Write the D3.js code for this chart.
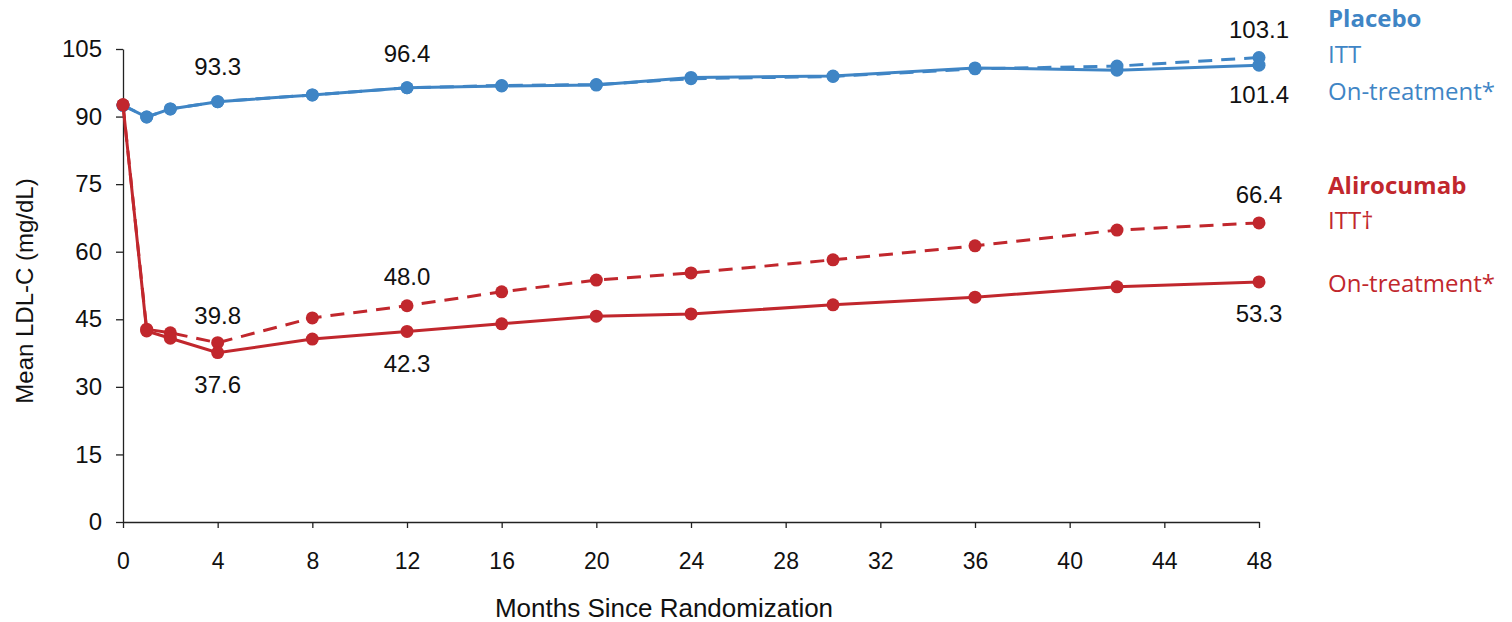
<!DOCTYPE html>
<html>
<head>
<meta charset="utf-8">
<script src="https://cdn.jsdelivr.net/npm/d3@7"></script>
<style>
  body { margin: 0; background: #fff; }
  svg { display: block; }
</style>
</head>
<body>
<div id="chart"></div>
<script>
// months where LDL-C was measured
var months = [0, 1, 2, 4, 8, 12, 16, 20, 24, 30, 36, 42, 48];

// mean LDL-C (mg/dL)
var placeboITT   = [92.5, 89.9, 91.7, 93.3, 94.8, 96.4, 96.9, 97.1, 98.4, 98.9, 100.6, 101.2, 103.1];
var placeboOnTx  = [92.5, 89.9, 91.7, 93.3, 94.8, 96.4, 96.8, 97.0, 98.7, 99.0, 100.8, 100.3, 101.4];
var aliroITT     = [92.6, 42.8, 42.0, 39.8, 45.3, 48.0, 51.1, 53.7, 55.3, 58.2, 61.3, 64.8, 66.4];
var aliroOnTx    = [92.6, 42.4, 40.8, 37.6, 40.6, 42.3, 44.0, 45.7, 46.2, 48.2, 49.9, 52.2, 53.3];

var xTicks = [0, 4, 8, 12, 16, 20, 24, 28, 32, 36, 40, 44, 48];
var yTicks = [0, 15, 30, 45, 60, 75, 90, 105];

var width = 1512, height = 622;
var blue = "#3f85c5", red = "#c1272d";

var svg = d3.select("#chart")
  .append("svg")
  .attr("width", width)
  .attr("height", height);

var x = d3.scaleLinear().domain([0, 48]).range([123, 1259]);
var y = d3.scaleLinear().domain([0, 105]).range([522, 49]);

var axisFont = "'Liberation Sans', Arial, sans-serif";

// y axis
var yAxis = svg.append("g")
  .attr("transform", "translate(123,0)")
  .call(d3.axisLeft(y).tickValues(yTicks).tickSize(7).tickPadding(14).tickSizeOuter(0));
yAxis.selectAll("text").attr("font-size", "24px").attr("font-family", axisFont).attr("fill", "#111");
yAxis.selectAll("line, path").attr("stroke", "#222").attr("stroke-width", 1.3);

// x axis
var xAxis = svg.append("g")
  .attr("transform", "translate(0,522)")
  .call(d3.axisBottom(x).tickValues(xTicks).tickSize(6).tickPadding(25).tickSizeOuter(0));
xAxis.selectAll("text").attr("font-size", "23px").attr("font-family", axisFont).attr("fill", "#111");
xAxis.selectAll("line, path").attr("stroke", "#222").attr("stroke-width", 1.3);

// axis titles
svg.append("text")
  .attr("x", 664).attr("y", 617)
  .attr("text-anchor", "middle")
  .attr("font-family", axisFont).attr("font-size", "26px").attr("fill", "#111")
  .text("Months Since Randomization");

svg.append("text")
  .attr("transform", "translate(33,291) rotate(-90)")
  .attr("text-anchor", "middle")
  .attr("font-family", axisFont).attr("font-size", "24px").attr("fill", "#111")
  .text("Mean LDL-C (mg/dL)");

var line = d3.line()
  .x(function(d) { return x(d[0]); })
  .y(function(d) { return y(d[1]); });

function drawSeries(vals, color, dashed) {
  var pts = months.map(function(m, i) { return [m, vals[i]]; });
  svg.append("path")
    .datum(pts)
    .attr("d", line)
    .attr("fill", "none")
    .attr("stroke", color)
    .attr("stroke-width", 3)
    .attr("stroke-dasharray", dashed ? "14,9" : null);
  svg.append("g")
    .selectAll("circle")
    .data(pts)
    .enter()
    .append("circle")
    .attr("cx", function(d) { return x(d[0]); })
    .attr("cy", function(d) { return y(d[1]); })
    .attr("r", 6.5)
    .attr("fill", color);
}

drawSeries(placeboITT, blue, true);
drawSeries(placeboOnTx, blue, false);
drawSeries(aliroITT, red, true);
drawSeries(aliroOnTx, red, false);

// value callouts
var labels = [
  { m: 4,  v: aliroITT[3],     dy: -19 },
  { m: 4,  v: aliroOnTx[3],    dy: 40 },
  { m: 12, v: aliroITT[5],     dy: -21 },
  { m: 12, v: aliroOnTx[5],    dy: 41 },
  { m: 4,  v: placeboITT[3],   dy: -27 },
  { m: 12, v: placeboITT[5],   dy: -26 },
  { m: 48, v: placeboITT[12],  dy: -20 },
  { m: 48, v: placeboOnTx[12], dy: 38 },
  { m: 48, v: aliroITT[12],    dy: -20 },
  { m: 48, v: aliroOnTx[12],   dy: 40 }
];
svg.append("g")
  .selectAll("text")
  .data(labels)
  .enter()
  .append("text")
  .attr("x", function(d) { return x(d.m); })
  .attr("y", function(d) { return y(d.v) + d.dy; })
  .attr("text-anchor", "middle")
  .attr("font-family", axisFont)
  .attr("font-size", "24px")
  .attr("fill", "#111")
  .text(function(d) { return d.v.toFixed(1); });

// legend on the right
var legendFont = "'Open Sans', Lato, sans-serif";
var legend = [
  { t: "Placebo",       y: 27,  c: blue, b: true },
  { t: "ITT",           y: 63,  c: blue, b: false },
  { t: "On-treatment*", y: 100, c: blue, b: false },
  { t: "Alirocumab",    y: 194, c: red,  b: true },
  { t: "ITT\u2020",     y: 229, c: red,  b: false },
  { t: "On-treatment*", y: 292, c: red,  b: false }
];
svg.append("g")
  .selectAll("text")
  .data(legend)
  .enter()
  .append("text")
  .attr("x", 1328)
  .attr("y", function(d) { return d.y; })
  .attr("font-family", legendFont)
  .attr("font-size", "24px")
  .attr("font-weight", function(d) { return d.b ? "bold" : "normal"; })
  .attr("fill", function(d) { return d.c; })
  .text(function(d) { return d.t; });
</script>
</body>
</html>
